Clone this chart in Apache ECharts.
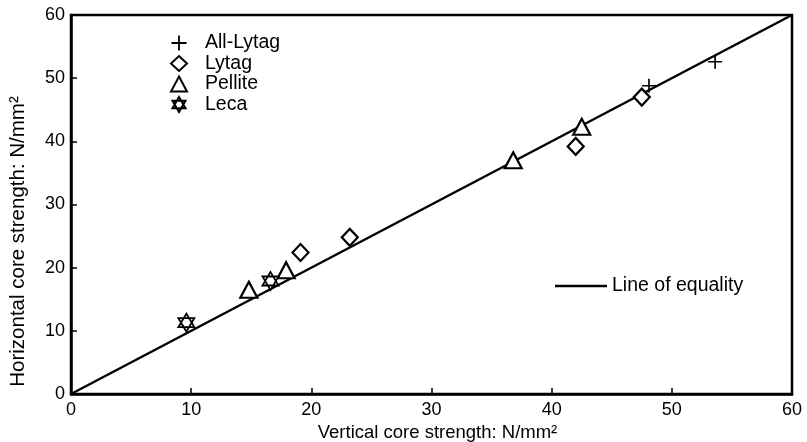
<!DOCTYPE html>
<html>
<head>
<meta charset="utf-8">
<script src="https://cdn.jsdelivr.net/npm/echarts@6/dist/echarts.min.js"></script>
<style>html,body{margin:0;padding:0;background:#fff}#c{width:807px;height:442px}</style>
</head>
<body>
<div id="c"></div>
<script>
// Data
var allLytagX = [48.1, 53.6];
var allLytagY = [48.8, 52.6];
var lytagX = [19.1, 23.2, 42.0, 47.5];
var lytagY = [22.4, 24.8, 39.2, 47.0];
var pelliteX = [14.8, 17.9, 36.8, 42.5];
var pelliteY = [16.5, 19.6, 37.0, 42.3];
var lecaX = [9.6, 16.6];
var lecaY = [11.3, 17.9];
var equalityX = [0, 60];
var equalityY = [0, 60];
var xTicks = [0, 10, 20, 30, 40, 50, 60];
var yTicks = [0, 10, 20, 30, 40, 50, 60];

function pairs(xs, ys) { return xs.map(function (x, i) { return [x, ys[i]]; }); }

var FONT = 'Liberation Sans';
var plusPath = 'path://M-1.2,-10 L1.2,-10 L1.2,-1.2 L10,-1.2 L10,1.2 L1.2,1.2 L1.2,10 L-1.2,10 L-1.2,1.2 L-10,1.2 L-10,-1.2 L-1.2,-1.2 Z';
var starPath = 'path://M0,-10 L8.66,5 L-8.66,5 Z M0,10 L-8.66,-5 L8.66,-5 Z';

var hollow = { color: '#fff', borderColor: '#000', borderWidth: 2.2, opacity: 1 };

var chart = echarts.init(document.getElementById('c'), null, { renderer: 'canvas' });
chart.setOption({
  animation: false,
  backgroundColor: '#fff',
  textStyle: { fontFamily: FONT, color: '#000' },
  grid: { left: 71, right: 15, top: 15, bottom: 48, containLabel: false, outerBoundsMode: 'none', show: true, borderColor: '#000', borderWidth: 2.5, backgroundColor: 'transparent' },
  xAxis: {
    type: 'value', min: xTicks[0], max: xTicks[xTicks.length - 1], interval: 10,
    name: 'Vertical core strength: N/mm²', nameLocation: 'middle', nameGap: 27,
    nameTextStyle: { fontSize: 18.5, fontFamily: FONT, color: '#000', padding: [0, 0, 0, 12] },
    axisLine: { lineStyle: { color: '#000', width: 2.5 } },
    axisTick: { inside: true, length: 6, lineStyle: { color: '#000', width: 1.5 } },
    axisLabel: { fontSize: 18, color: '#000', fontFamily: FONT, margin: 7 },
    splitLine: { show: false }
  },
  yAxis: {
    type: 'value', min: yTicks[0], max: yTicks[yTicks.length - 1], interval: 10,
    name: 'Horizontal core strength: N/mm²', nameLocation: 'middle', nameGap: 42,
    nameTextStyle: { fontSize: 20.5, fontFamily: FONT, color: '#000', padding: [0, 74, 0, 0] },
    axisLine: { lineStyle: { color: '#000', width: 2.5 } },
    axisTick: { inside: true, length: 6, lineStyle: { color: '#000', width: 1.5 } },
    axisLabel: { fontSize: 18, color: '#000', fontFamily: FONT, margin: 6 },
    splitLine: { show: false }
  },
  legend: [{
    data: ['All-Lytag', 'Lytag', 'Pellite', 'Leca'],
    orient: 'vertical', left: 165, top: 28, itemWidth: 16, itemHeight: 15, itemGap: 0.5,
    textStyle: { fontSize: 19.5, fontFamily: FONT, color: '#000', padding: [0, 0, 0, 13] }
  }, {
    data: [{ name: 'Line of equality', icon: 'rect' }],
    left: 550, top: 271, itemWidth: 52, itemHeight: 2.5,
    textStyle: { fontSize: 19.5, fontFamily: FONT, color: '#000', padding: [0, 0, 0, 0] }
  }],
  series: [
    {
      name: 'Line of equality', type: 'line', data: pairs(equalityX, equalityY),
      showSymbol: false, symbol: 'none', lineStyle: { color: '#000', width: 2.5 }, itemStyle: { color: '#000' }, z: 1
    },
    {
      name: 'All-Lytag', type: 'scatter', data: pairs(allLytagX, allLytagY),
      symbol: plusPath, symbolSize: 14, itemStyle: { color: '#000', opacity: 1 }, z: 3
    },
    {
      name: 'Lytag', type: 'scatter', data: pairs(lytagX, lytagY),
      symbol: 'diamond', symbolSize: [16, 17], itemStyle: hollow, z: 3
    },
    {
      name: 'Pellite', type: 'scatter', data: pairs(pelliteX, pelliteY),
      symbol: 'triangle', symbolSize: [17, 16], itemStyle: hollow, z: 3
    },
    {
      name: 'Leca', type: 'scatter', data: pairs(lecaX, lecaY),
      symbol: starPath, symbolSize: [16, 18], itemStyle: { color: '#fff', borderColor: '#000', borderWidth: 1.8, opacity: 1 }, z: 3
    }
  ]
});
</script>
</body>
</html>
